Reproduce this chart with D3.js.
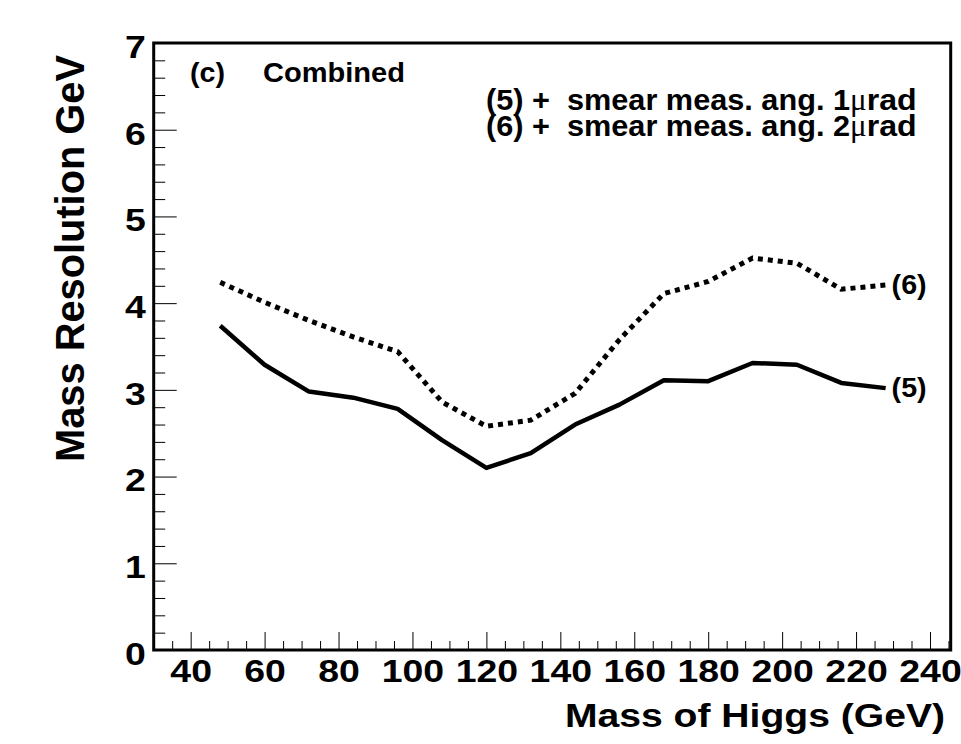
<!DOCTYPE html>
<html>
<head>
<meta charset="utf-8">
<script src="https://cdn.jsdelivr.net/npm/d3@7"></script>
<style>
  body { margin: 0; background: #fff; }
  svg { display: block; }
  text { font-family: "Liberation Sans", Arial, Helvetica, sans-serif; font-weight: bold; fill: #000; }
</style>
</head>
<body>
<svg></svg>
<script>
// Higgs mass points (GeV)
const masses = [48, 60, 72, 84, 96, 108, 120, 132, 144, 156, 168, 180, 192, 204, 216, 228];
// (5) + smear meas. ang. 1 urad
const res5 = [3.74, 3.29, 2.98, 2.91, 2.78, 2.42, 2.10, 2.27, 2.60, 2.83, 3.11, 3.10, 3.31, 3.29, 3.08, 3.02];
// (6) + smear meas. ang. 2 urad
const res6 = [4.24, 4.01, 3.80, 3.61, 3.44, 2.86, 2.58, 2.65, 2.96, 3.58, 4.11, 4.25, 4.52, 4.46, 4.16, 4.21];

const xMajor = [40, 60, 80, 100, 120, 140, 160, 180, 200, 220, 240];
const yMajor = [0, 1, 2, 3, 4, 5, 6, 7];

drawChart();

function drawChart(){
    const width = 961;
    const height = 744;
    const stretch = 1.17;   // the original font is drawn wider than Liberation

    const svg = d3.select("svg")
                    .attr("width", width)
                    .attr("height", height);

    const xScale = d3.scaleLinear()
                        .domain([30, 245.6])
                        .range([153.7, 950.7]);

    const yScale = d3.scaleLinear()
                        .domain([0, 7])
                        .range([650, 43]);

    const left = xScale.range()[0], right = xScale.range()[1];
    const bottom = yScale.range()[0], top = yScale.range()[1];

    // minor ticks every 5 GeV / 0.2 GeV
    const xMinor = d3.range(35, 246, 5).filter(v => v % 20 !== 0);
    const yMinor = d3.range(0, 7.01, 0.2).map(v => +v.toFixed(1)).filter(v => Math.abs(v - Math.round(v)) > 0.01);

    // x axis
    svg.append("g")
        .attr("transform", `translate(0, ${bottom})`)
        .call(d3.axisBottom(xScale).tickValues(xMinor).tickSize(-9).tickFormat(""))
        .call(g => g.select(".domain").remove());

    svg.append("g")
        .attr("transform", `translate(0, ${bottom})`)
        .call(d3.axisBottom(xScale).tickValues(xMajor).tickSize(-18).tickPadding(9).tickFormat(d3.format("d")))
        .call(g => g.select(".domain").remove())
        .call(g => g.selectAll("text")
                    .style("font-size", "32px")
                    .attr("transform", `scale(${stretch},1)`));

    // y axis
    svg.append("g")
        .attr("transform", `translate(${left}, 0)`)
        .call(d3.axisLeft(yScale).tickValues(yMinor).tickSize(-11.5).tickFormat(""))
        .call(g => g.select(".domain").remove());

    svg.append("g")
        .attr("transform", `translate(${left}, 0)`)
        .call(d3.axisLeft(yScale).tickValues(yMajor).tickSize(-23).tickPadding(8).tickFormat(d3.format("d")))
        .call(g => g.select(".domain").remove())
        .call(g => g.selectAll("text")
                    .style("font-size", "32px")
                    .attr("dy", "0.45em")
                    .attr("x", -8 / stretch)
                    .attr("transform", `scale(${stretch},1)`));

    svg.selectAll(".tick line").attr("stroke", "#000").attr("stroke-width", 1);

    // frame
    svg.append("rect")
        .attr("x", left)
        .attr("y", top)
        .attr("width", right - left)
        .attr("height", bottom - top)
        .attr("fill", "none")
        .attr("stroke", "#000")
        .attr("stroke-width", 3);

    // curves
    const line = d3.line()
                    .x((d, i) => xScale(masses[i]))
                    .y(d => yScale(d));

    svg.append("path")
        .datum(res5)
        .attr("d", line)
        .attr("fill", "none")
        .attr("stroke", "#000")
        .attr("stroke-width", 4.5)
        .attr("stroke-linejoin", "round");

    svg.append("path")
        .datum(res6)
        .attr("d", line)
        .attr("fill", "none")
        .attr("stroke", "#000")
        .attr("stroke-width", 5)
        .attr("stroke-dasharray", "5,5");

    // curve labels
    const lastX = xScale(masses[masses.length - 1]) + 6;
    [["(6)", res6], ["(5)", res5]].forEach(c => {
        svg.append("text")
            .attr("x", lastX)
            .attr("y", yScale(c[1][c[1].length - 1]) + 9)
            .attr("textLength", 35)
            .attr("lengthAdjust", "spacingAndGlyphs")
            .style("font-size", "28px")
            .text(c[0]);
    });

    // panel label
    svg.append("text")
        .attr("x", 190)
        .attr("y", 82)
        .attr("textLength", 35)
        .attr("lengthAdjust", "spacingAndGlyphs")
        .style("font-size", "28px")
        .text("(c)");

    svg.append("text")
        .attr("x", 263)
        .attr("y", 82)
        .attr("textLength", 142)
        .attr("lengthAdjust", "spacingAndGlyphs")
        .style("font-size", "28px")
        .text("Combined");

    // legend text
    const legend = [["(5)", "1", 110], ["(6)", "2", 136]];
    legend.forEach(l => {
        const t = svg.append("text")
                    .attr("x", 486)
                    .attr("y", l[2])
                    .style("font-size", "29px")
                    .style("white-space", "pre");
        t.append("tspan")
            .attr("textLength", 364)
            .attr("lengthAdjust", "spacingAndGlyphs")
            .text(`${l[0]} +  smear meas. ang. ${l[1]}`);
        t.append("tspan")
            .style("font-family", "'Liberation Serif', 'Times New Roman', serif")
            .style("font-weight", "normal")
            .style("font-size", "31px")
            .text("\u03bc");
        t.append("tspan")
            .attr("textLength", 50)
            .attr("lengthAdjust", "spacingAndGlyphs")
            .text("rad");
    });

    // axis titles
    svg.append("text")
        .attr("x", 945)
        .attr("y", 727)
        .attr("text-anchor", "end")
        .attr("textLength", 380)
        .attr("lengthAdjust", "spacingAndGlyphs")
        .style("font-size", "33px")
        .text("Mass of Higgs (GeV)");

    svg.append("text")
        .attr("transform", "translate(84, 258.5) rotate(-90)")
        .attr("text-anchor", "middle")
        .attr("textLength", 407)
        .attr("lengthAdjust", "spacingAndGlyphs")
        .style("font-size", "40px")
        .text("Mass Resolution GeV");
}
</script>
</body>
</html>
